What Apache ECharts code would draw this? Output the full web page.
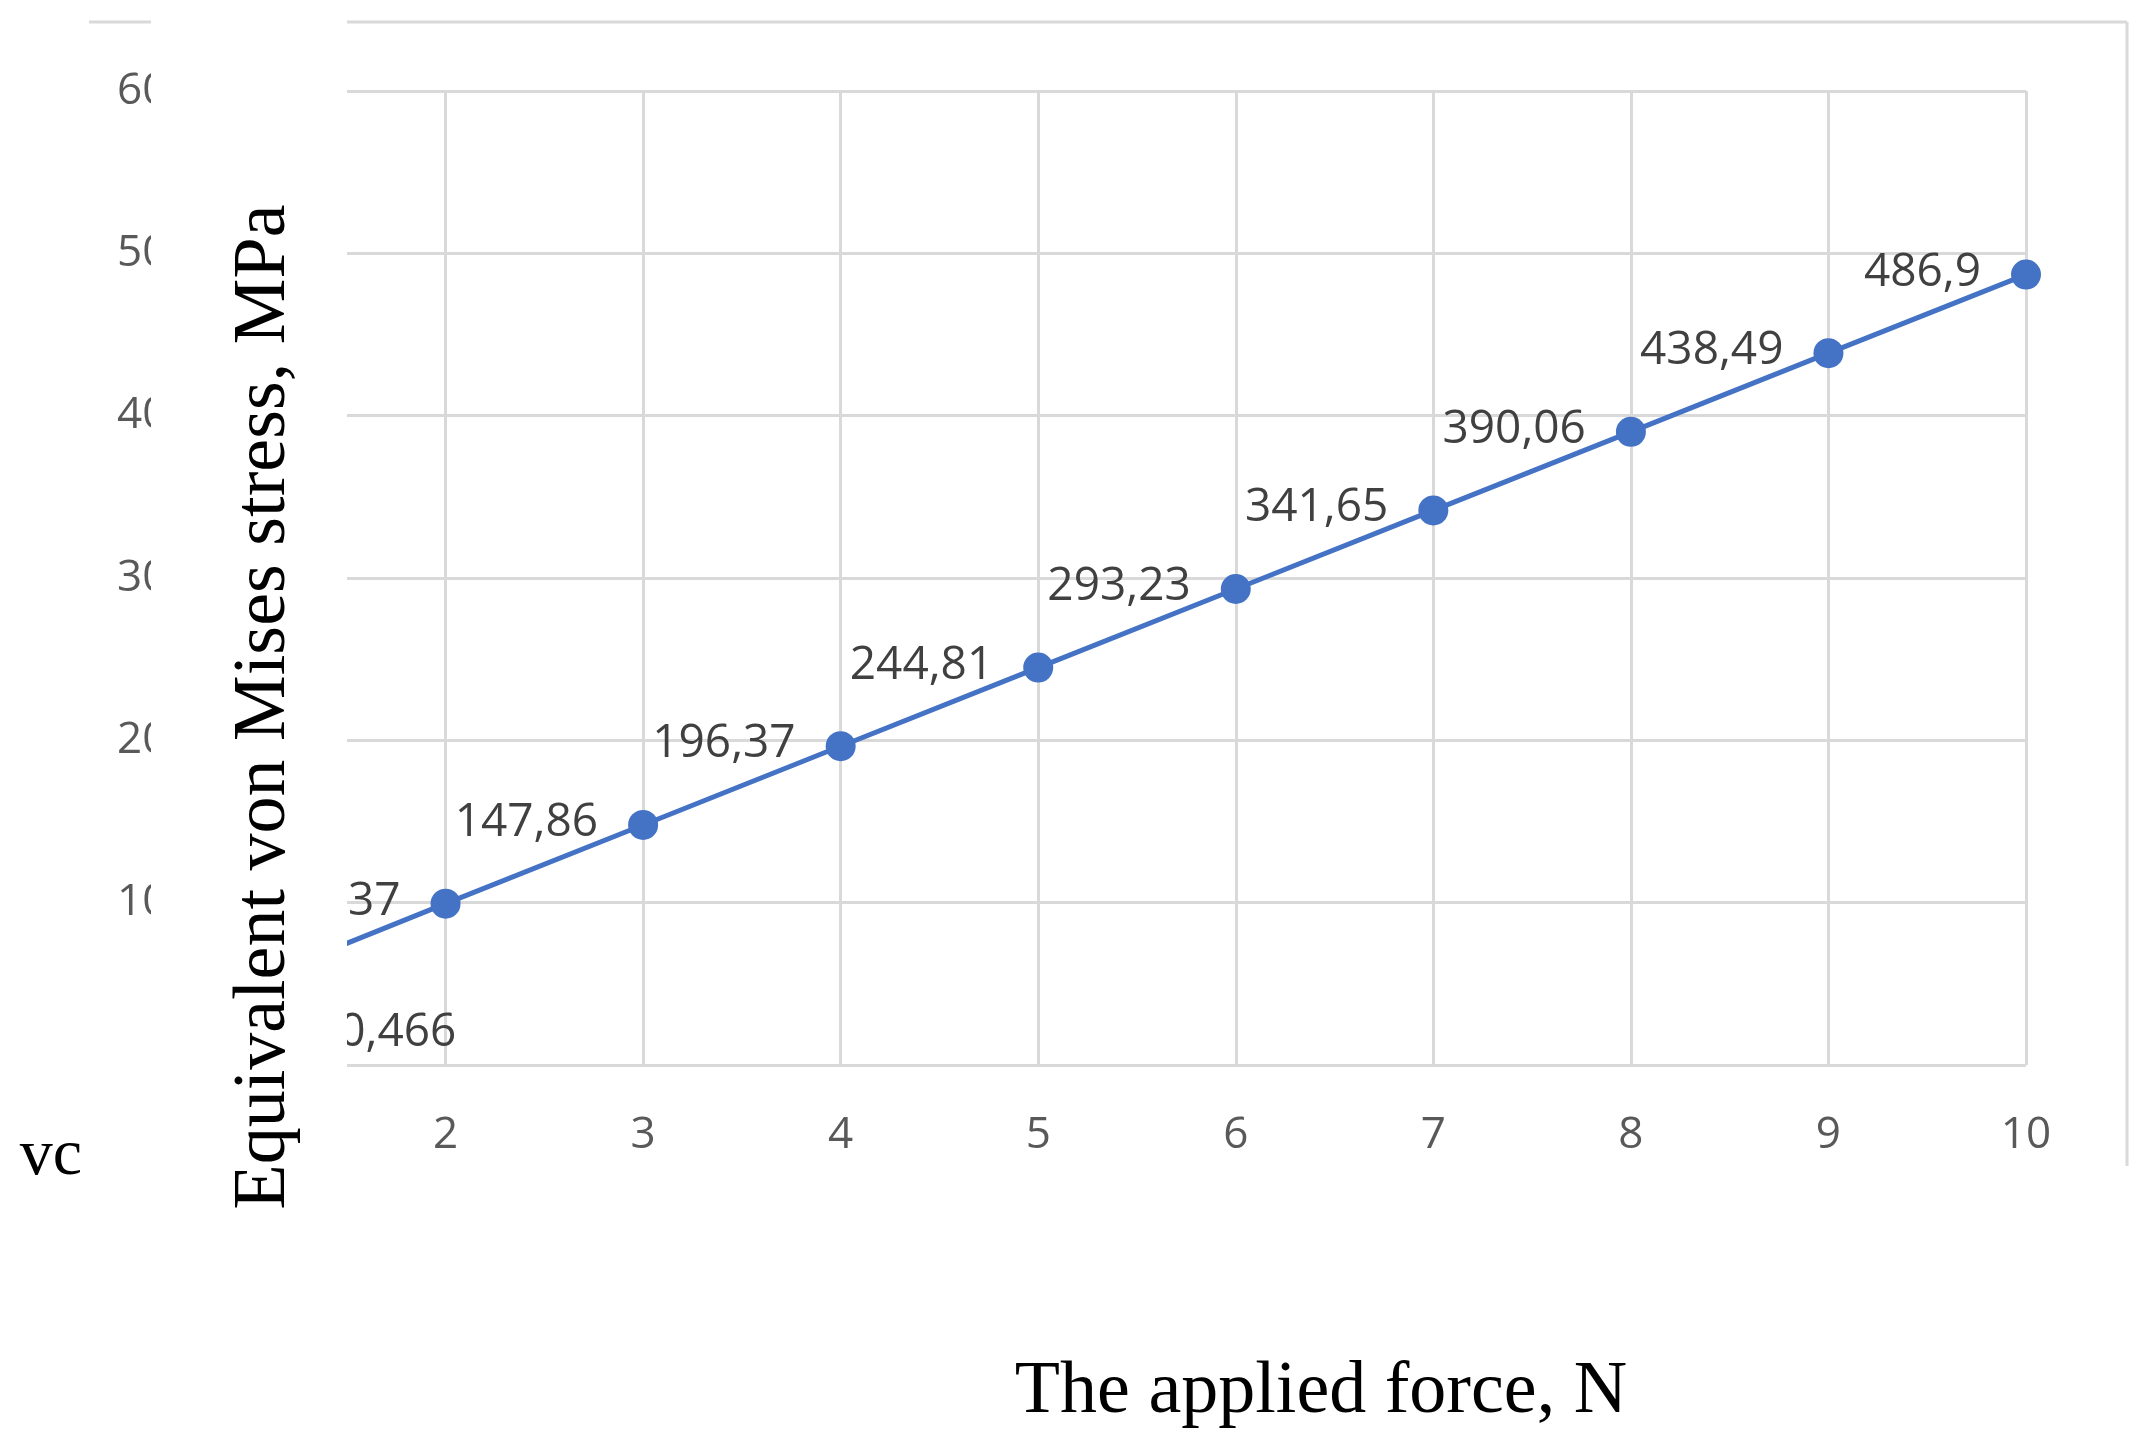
<!DOCTYPE html><html><head><meta charset="utf-8"><script src="https://cdn.jsdelivr.net/npm/echarts@6/dist/echarts.min.js"></script>
<style>body{margin:0}#c{width:2140px;height:1433px}</style></head><body><div id="c"></div><script>
const forces=[1,2,3,4,5,6,7,8,9,10];
const stress=[50.466,99.37,147.86,196.37,244.81,293.23,341.65,390.06,438.49,486.9];
const labels=['50,466','99,37','147,86','196,37','244,81','293,23','341,65','390,06','438,49','486,9'];
const c=echarts.init(document.getElementById('c'));
const data=forces.map((f,i)=>{const d={value:[f,stress[i]],label:{formatter:labels[i]}};
 if(i===0)d.label={formatter:labels[i],position:'right',distance:0,offset:[50,50]};return d;});
c.setOption({animation:false,
grid:{left:248,right:114,top:91,bottom:368},
xAxis:{type:'value',min:1,max:10,interval:1,axisLine:{show:false},axisTick:{show:false},
 splitLine:{lineStyle:{color:'#d9d9d9',width:3}},
 axisLabel:{color:'#595959',fontSize:44,fontFamily:'Open Sans',margin:48}},
yAxis:{type:'value',min:0,max:600,interval:100,axisLine:{show:true,lineStyle:{color:'#d9d9d9',width:3}},axisTick:{show:false},
 splitLine:{lineStyle:{color:'#d9d9d9',width:3}},
 axisLabel:{color:'#595959',fontSize:44,fontFamily:'Open Sans',align:'left',margin:131,formatter:v=>v===0?'':v}},
series:[{type:'line',data:data,symbol:'circle',symbolSize:30,lineStyle:{color:'#4472c4',width:5},itemStyle:{color:'#4472c4'},
 label:{show:true,position:'left',distance:30,offset:[0,-2],color:'#404040',fontSize:46,fontFamily:'Open Sans'}}],
graphic:[
 {type:'rect',z:100,shape:{x:151,y:0,width:196,height:1433},style:{fill:'#fff'}},
 {type:'line',z:101,shape:{x1:89,y1:22,x2:151,y2:22},style:{stroke:'#d9d9d9',lineWidth:3}},
 {type:'line',z:101,shape:{x1:347,y1:22,x2:2127,y2:22},style:{stroke:'#d9d9d9',lineWidth:3}},
 {type:'line',z:101,shape:{x1:2127,y1:22,x2:2127,y2:1166},style:{stroke:'#d9d9d9',lineWidth:3}},
 {type:'text',z:102,x:265,y:707,rotation:Math.PI/2,style:{text:'Equivalent von Mises stress, MPa',font:'74px "Liberation Serif"',fill:'#000',align:'center',verticalAlign:'middle'}},
 {type:'text',z:102,x:1321,y:1393,style:{text:'The applied force, N',font:'74px "Liberation Serif"',fill:'#000',align:'center',verticalAlign:'middle'}},
 {type:'text',z:102,x:51,y:1157,style:{text:'vc',font:'66px "Liberation Serif"',fill:'#000',align:'center',verticalAlign:'middle'}}
]});
</script></body></html>
